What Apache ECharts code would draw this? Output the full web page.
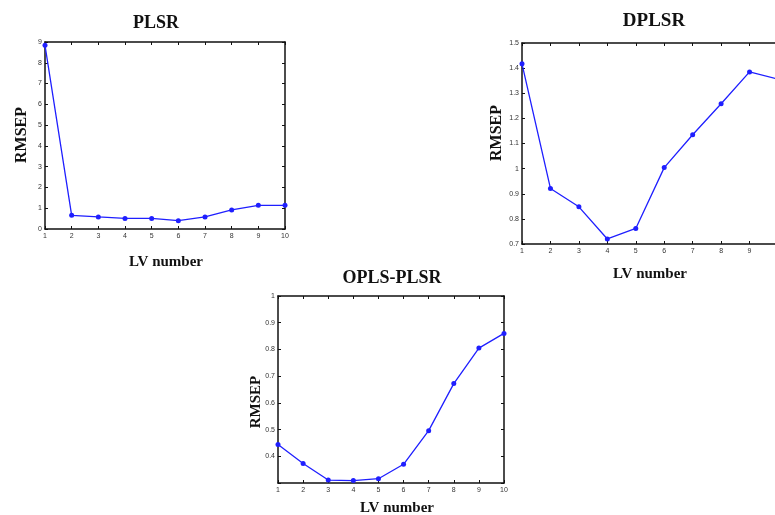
<!DOCTYPE html>
<html>
<head>
<meta charset="utf-8">
<style>
  html, body { margin: 0; padding: 0; background: #fff; }
  #chart { width: 775px; height: 515px; }
</style>
<script src="https://cdn.jsdelivr.net/npm/echarts@6/dist/echarts.min.js"></script>
</head>
<body>
<div id="chart"></div>
<script>
// Latent variable counts on the x axis
const lvNumbers = [1, 2, 3, 4, 5, 6, 7, 8, 9, 10];

// RMSEP per number of latent variables, one array per model
const rmsepPLSR = [8.84, 0.66, 0.58, 0.51, 0.51, 0.40, 0.58, 0.92, 1.14, 1.14];
const rmsepDPLSR = [1.417, 0.921, 0.848, 0.720, 0.762, 1.004, 1.135, 1.258, 1.385, 1.356];
const rmsepOPLS = [0.444, 0.373, 0.311, 0.309, 0.316, 0.370, 0.496, 0.672, 0.805, 0.860];

// Panel titles and axis captions
const panelTitles = ['PLSR', 'DPLSR', 'OPLS-PLSR'];
const xCaption = 'LV number';
const yCaption = 'RMSEP';

const chart = echarts.init(document.getElementById('chart'), null, { renderer: 'canvas' });

const lineBlue = '#1f1fff';
const axisColor = '#111';
const tickFont = { fontFamily: 'Liberation Sans, Arial, sans-serif', fontSize: 7, color: '#333' };

// The DPLSR panel runs slightly past the right edge of the page
const grids = [
  { left: 45, top: 42, width: 240, height: 187, outerBoundsMode: 'none' },
  { left: 522, top: 43, width: 256, height: 201, outerBoundsMode: 'none' },
  { left: 278, top: 296, width: 226, height: 187, outerBoundsMode: 'none' }
];

const yRanges = [
  { min: 0, max: 9, interval: 1 },
  { min: 0.7, max: 1.5, interval: 0.1 },
  { min: 0.3, max: 1, interval: 0.1 }
];

const boxLine = { show: true, onZero: false, lineStyle: { color: axisColor, width: 1.5 } };
const inTick = { show: true, inside: true, length: 3, lineStyle: { color: axisColor, width: 1 } };

function bottomX(i) {
  return {
    type: 'value', gridIndex: i, position: 'bottom', min: 1, max: 10, interval: 1,
    axisLine: boxLine, axisTick: inTick,
    axisLabel: Object.assign({
      margin: 4,
      // the last DPLSR label falls off the page edge
      formatter: function (v) { return (i === 1 && v === 10) ? '' : String(v); }
    }, tickFont),
    splitLine: { show: false }
  };
}
function topX(i) {
  return {
    type: 'value', gridIndex: i, position: 'top', min: 1, max: 10, interval: 1,
    axisLine: boxLine, axisTick: inTick,
    axisLabel: { show: false },
    splitLine: { show: false }
  };
}
function leftY(i) {
  const r = yRanges[i];
  return {
    type: 'value', gridIndex: i, position: 'left', min: r.min, max: r.max, interval: r.interval,
    axisLine: boxLine, axisTick: inTick,
    axisLabel: Object.assign({
      margin: 3,
      formatter: function (v) {
        if (i === 2 && Math.abs(v - 0.3) < 1e-9) return '';
        return String(+v.toFixed(2));
      }
    }, tickFont),
    splitLine: { show: false }
  };
}
function rightY(i) {
  const r = yRanges[i];
  return {
    type: 'value', gridIndex: i, position: 'right', min: r.min, max: r.max, interval: r.interval,
    axisLine: boxLine, axisTick: inTick,
    axisLabel: { show: false },
    splitLine: { show: false }
  };
}

function seriesFor(i, values) {
  return {
    type: 'line', xAxisIndex: i, yAxisIndex: i,
    data: lvNumbers.map((x, k) => [x, values[k]]),
    symbol: 'circle', symbolSize: 5,
    itemStyle: { color: lineBlue },
    lineStyle: { color: lineBlue, width: 1.3 },
    silent: true, animation: false
  };
}

function caption(text, x, y, rotate, size) {
  return {
    type: 'text', x: x, y: y, rotation: rotate ? Math.PI / 2 : 0,
    style: {
      text: text, align: 'center', verticalAlign: 'middle',
      font: 'bold ' + size + 'px "Liberation Serif", "Times New Roman", serif',
      fill: '#111'
    },
    silent: true
  };
}

chart.setOption({
  animation: false,
  grid: grids,
  xAxis: [bottomX(0), bottomX(1), bottomX(2), topX(0), topX(1), topX(2)],
  yAxis: [leftY(0), leftY(1), leftY(2), rightY(0), rightY(1), rightY(2)],
  series: [
    seriesFor(0, rmsepPLSR),
    seriesFor(1, rmsepDPLSR),
    seriesFor(2, rmsepOPLS)
  ],
  graphic: [
    caption(panelTitles[0], 156, 23, false, 18),
    caption(panelTitles[1], 654, 21, false, 19),
    caption(panelTitles[2], 392, 278, false, 18),
    caption(xCaption, 166, 262, false, 15),
    caption(xCaption, 650, 274, false, 15),
    caption(xCaption, 397, 508, false, 15),
    caption(yCaption, 22, 135, true, 16),
    caption(yCaption, 497, 133, true, 16),
    caption(yCaption, 256, 402, true, 15)
  ]
});
</script>
</body>
</html>
